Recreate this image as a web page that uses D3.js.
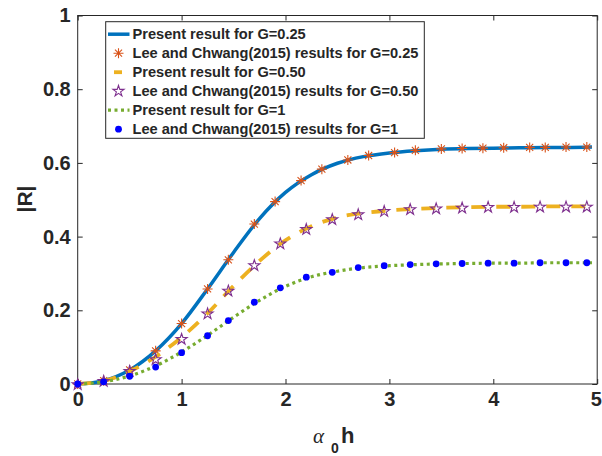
<!DOCTYPE html>
<html>
<head>
<meta charset="utf-8">
<script src="https://cdn.jsdelivr.net/npm/d3@7"></script>
<style>
  html, body { margin: 0; padding: 0; background: #fff; }
  svg { display: block; }
  text { font-family: "Liberation Sans", Arial, Helvetica, sans-serif; fill: #262626; }
</style>
</head>
<body>
<svg id="chart" width="602" height="456"></svg>
<script>
// Present results (continuous curves), |R| versus alpha0*h
const curveX   = [0, 0.25, 0.5, 0.75, 1.0, 1.25, 1.5, 1.75, 2.0, 2.25, 2.5, 2.75, 3.0, 3.25, 3.5, 3.75, 4.0, 4.25, 4.5, 4.75, 4.95];
const presentG025 = [0, 0.009, 0.038, 0.090, 0.164, 0.258, 0.357, 0.449, 0.520, 0.568, 0.599, 0.617, 0.627, 0.633, 0.637, 0.639, 0.640, 0.641, 0.642, 0.642, 0.643];
const presentG050 = [0, 0.008, 0.034, 0.074, 0.127, 0.192, 0.266, 0.334, 0.390, 0.428, 0.452, 0.464, 0.471, 0.475, 0.478, 0.480, 0.481, 0.481, 0.482, 0.482, 0.482];
const presentG1   = [0, 0.006, 0.022, 0.049, 0.087, 0.132, 0.181, 0.227, 0.265, 0.291, 0.306, 0.316, 0.321, 0.324, 0.326, 0.327, 0.328, 0.328, 0.329, 0.329, 0.329];

// Lee and Chwang (2015) reference points
const leeX025 = [0, 0.25, 0.5, 0.75, 1.0, 1.25, 1.45, 1.7, 1.9, 2.15, 2.35, 2.6, 2.8, 3.05, 3.25, 3.5, 3.7, 3.9, 4.1, 4.35, 4.5, 4.7, 4.9];
const leeG025 = [0, 0.009, 0.038, 0.090, 0.164, 0.258, 0.337, 0.434, 0.495, 0.552, 0.583, 0.608, 0.620, 0.628, 0.634, 0.638, 0.639, 0.640, 0.641, 0.642, 0.642, 0.643, 0.643];
const leeX = [0, 0.25, 0.5, 0.75, 1.0, 1.25, 1.45, 1.7, 1.95, 2.2, 2.45, 2.7, 2.95, 3.2, 3.45, 3.7, 3.95, 4.2, 4.45, 4.7, 4.9];
const leeG050 = [0, 0.009, 0.036, 0.068, 0.123, 0.192, 0.254, 0.323, 0.382, 0.421, 0.448, 0.461, 0.470, 0.475, 0.477, 0.479, 0.481, 0.481, 0.482, 0.482, 0.482];
const leeG1   = [0, 0.006, 0.021, 0.046, 0.085, 0.131, 0.172, 0.222, 0.261, 0.290, 0.303, 0.316, 0.321, 0.324, 0.326, 0.327, 0.328, 0.328, 0.329, 0.329, 0.329];

const xTicks = [0, 1, 2, 3, 4, 5];
const yTicks = [0, 0.2, 0.4, 0.6, 0.8, 1];

const legendLabels = [
  "Present result for G=0.25",
  "Lee and Chwang(2015) results for G=0.25",
  "Present result for G=0.50",
  "Lee and Chwang(2015) results for G=0.50",
  "Present result for G=1",
  "Lee and Chwang(2015) results for G=1"
];

const C = { blue: "#0072BD", orange: "#D95319", yellow: "#EDB120", purple: "#7E2F8E", green: "#77AC30", dot: "#0000FF", axis: "#262626" };

const plot = { left: 77.7, right: 597.2, top: 15.5, bottom: 384 };
const svg = d3.select("#chart");

const x = d3.scaleLinear().domain([0, 5]).range([plot.left, plot.right]);
const y = d3.scaleLinear().domain([0, 1]).range([plot.bottom, plot.top]);

// axes (ticks pointing inward, box on all four sides)
const fmt = d => d3.format("")(+d.toFixed(1));
const styleAxis = g => {
  g.select(".domain").remove();
  g.selectAll(".tick line").attr("stroke", C.axis).attr("stroke-width", 1);
  g.selectAll(".tick text").attr("font-size", 20).attr("font-weight", "bold").attr("fill", C.axis)
    .attr("font-family", "'Liberation Sans', Arial, sans-serif");
};
svg.append("g").attr("transform", `translate(0,${plot.bottom})`)
  .call(d3.axisBottom(x).tickValues(xTicks).tickFormat(fmt).tickSizeInner(-5).tickSizeOuter(0).tickPadding(8))
  .call(styleAxis)
  .call(g => g.selectAll(".tick text").filter(d => d === 5).attr("dx", -1.5));
svg.append("g").attr("transform", `translate(${plot.left},0)`)
  .call(d3.axisLeft(y).tickValues(yTicks).tickFormat(fmt).tickSizeInner(-5).tickSizeOuter(0).tickPadding(7))
  .call(styleAxis);
svg.append("g").attr("transform", `translate(0,${plot.top})`)
  .call(d3.axisTop(x).tickValues(xTicks).tickFormat("").tickSizeInner(-5).tickSizeOuter(0))
  .call(styleAxis);
svg.append("g").attr("transform", `translate(${plot.right},0)`)
  .call(d3.axisRight(y).tickValues(yTicks).tickFormat("").tickSizeInner(-5).tickSizeOuter(0))
  .call(styleAxis);
svg.append("rect")
  .attr("x", plot.left).attr("y", plot.top)
  .attr("width", plot.right - plot.left).attr("height", plot.bottom - plot.top)
  .attr("fill", "none").attr("stroke", C.axis).attr("stroke-width", 1);

// axis titles
svg.append("text")
  .attr("transform", `translate(32,199) rotate(-90)`)
  .attr("text-anchor", "middle")
  .attr("font-size", 21).attr("font-weight", "bold")
  .text("|R|");

const xl = svg.append("text").attr("y", 443);
xl.append("tspan").attr("x", 313).attr("font-family", "'Liberation Serif', 'DejaVu Serif', serif")
  .attr("font-style", "italic").attr("font-size", 21).text("α");
xl.append("tspan").attr("x", 331).attr("y", 453).attr("font-size", 14).attr("font-weight", "bold").text("0");
xl.append("tspan").attr("x", 341).attr("y", 443).attr("font-size", 22).attr("font-weight", "bold").text("h");

// marker shapes
const asteriskPath = r => {
  const d = r * Math.SQRT1_2;
  return `M${-r},0L${r},0M0,${-r}L0,${r}M${-d},${-d}L${d},${d}M${-d},${d}L${d},${-d}`;
};
const starSym = d3.symbol().type(d3.symbolStar).size(38);

const lineGen = d3.line().x(d => x(d[0])).y(d => y(d[1])).curve(d3.curveMonotoneX);
const zip = (xs, ys) => xs.map((v, i) => [v, ys[i]]);

const series = [
  { kind: "line", pts: zip(curveX, presentG025), color: C.blue, width: 3.5, dash: null },
  { kind: "asterisk", pts: zip(leeX025, leeG025), color: C.orange },
  { kind: "line", pts: zip(curveX, presentG050), color: C.yellow, width: 3.8, dash: "14,11" },
  { kind: "star", pts: zip(leeX, leeG050), color: C.purple },
  { kind: "line", pts: zip(curveX, presentG1), color: C.green, width: 3.2, dash: "3,3.5" },
  { kind: "dot", pts: zip(leeX, leeG1), color: C.dot }
];

const drawMarkers = (g, s, pts) => {
  if (s.kind === "asterisk") {
    g.selectAll(null).data(pts).join("path")
      .attr("transform", d => `translate(${x(d[0])},${y(d[1])})`)
      .attr("d", asteriskPath(5)).attr("fill", "none").attr("stroke", s.color).attr("stroke-width", 1.1);
  } else if (s.kind === "star") {
    g.selectAll(null).data(pts).join("path")
      .attr("transform", d => `translate(${x(d[0])},${y(d[1]) + 0.6})`)
      .attr("d", starSym()).attr("fill", "none").attr("stroke", s.color).attr("stroke-width", 1.1);
  } else if (s.kind === "dot") {
    g.selectAll(null).data(pts).join("circle")
      .attr("cx", d => x(d[0])).attr("cy", d => y(d[1])).attr("r", 3.4).attr("fill", s.color);
  }
};

const plotG = svg.append("g");
series.forEach(s => {
  if (s.kind === "line") {
    plotG.append("path").datum(s.pts).attr("d", lineGen)
      .attr("fill", "none").attr("stroke", s.color).attr("stroke-width", s.width)
      .attr("stroke-dasharray", s.dash).attr("stroke-linecap", "butt");
  } else {
    drawMarkers(plotG.append("g"), s, s.pts);
  }
});

// legend
const lg = { x: 105.7, y: 21.7, w: 318.6, h: 116.6, row0: 34.2, step: 19 };
svg.append("rect").attr("x", lg.x).attr("y", lg.y).attr("width", lg.w).attr("height", lg.h)
  .attr("fill", "#fff").attr("stroke", C.axis).attr("stroke-width", 1);
series.forEach((s, i) => {
  const cy = lg.row0 + i * lg.step;
  const g = svg.append("g");
  if (s.kind === "line") {
    if (s.dash === "14,11") {
      g.append("line").attr("x1", 114).attr("x2", 122).attr("y1", cy).attr("y2", cy)
        .attr("stroke", s.color).attr("stroke-width", s.width);
    } else {
      g.append("line").attr("x1", 108).attr("x2", 129.5).attr("y1", cy).attr("y2", cy)
        .attr("stroke", s.color).attr("stroke-width", s.width).attr("stroke-dasharray", s.dash);
    }
  } else {
    const xs = x.invert(118.5);
    drawMarkers(g, s, [[xs, s.kind === "star" ? y.invert(cy - 0.6) : y.invert(cy)]]);
  }
  svg.append("text").attr("x", 132.5).attr("y", cy).attr("dy", "0.36em")
    .attr("font-size", 14.6).attr("font-weight", "bold").text(legendLabels[i]);
});
</script>
</body>
</html>
